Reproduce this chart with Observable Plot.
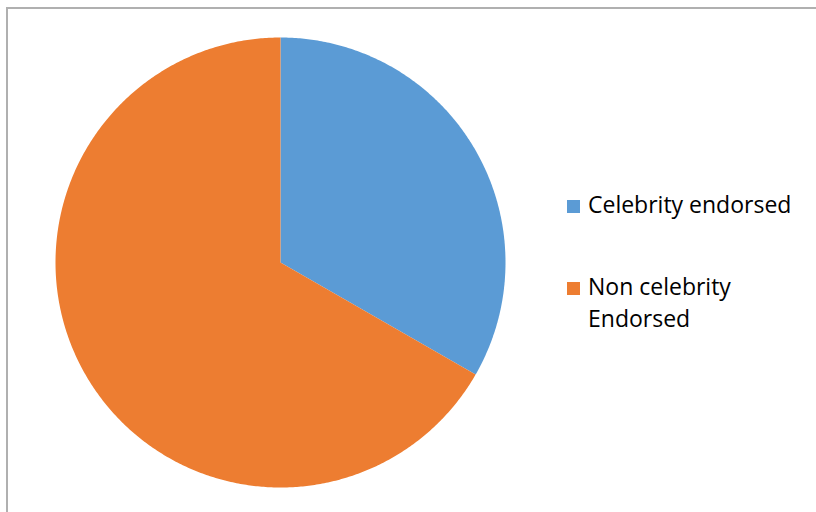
<!DOCTYPE html>
<html>
<head>
<meta charset="utf-8">
<script src="https://cdn.jsdelivr.net/npm/d3@7"></script>
<script src="https://cdn.jsdelivr.net/npm/@observablehq/plot@0.6"></script>
<style>
  html, body { margin: 0; padding: 0; background: #fff; overflow: hidden; }
  #wrap { position: relative; width: 816px; height: 512px; }
  #frame { position: absolute; left: 6px; top: 7px; width: 900px; height: 600px; border: 2px solid #b0b0b0; box-sizing: border-box; }
  #chart { position: absolute; left: 0; top: 0; }
  .leg { position: absolute; font-family: "Open Sans", Lato, sans-serif; font-size: 23px; line-height: 32px; color: #000; white-space: nowrap; }
  .sw { position: absolute; width: 13px; height: 13px; }
</style>
</head>
<body>
<div id="wrap">
  <div id="frame"></div>
  <div id="chart"></div>
  <div id="legend"></div>
</div>
<script>
const categories = ["Celebrity endorsed", "Non celebrity Endorsed"];
const legendLines = [["Celebrity endorsed"], ["Non celebrity", "Endorsed"]];
const values = [33.3, 66.7];
const colors = ["#5b9bd5", "#ed7d31"];

const arcs = d3.pie().sort(null).value(d => d.value)(categories.map((c, i) => ({cat: c, value: values[i]})));
const pts = [];
for (const a of arcs) {
  pts.push({cat: a.data.cat, x: 0, y: 0});
  const n = Math.max(2, Math.ceil((a.endAngle - a.startAngle) / (Math.PI / 360)));
  for (let k = 0; k <= n; k++) {
    const t = a.startAngle + (a.endAngle - a.startAngle) * k / n;
    pts.push({cat: a.data.cat, x: Math.sin(t), y: Math.cos(t)});
  }
}

const plot = Plot.plot({
  width: 816,
  height: 512,
  marginLeft: 55,
  marginRight: 311,
  marginTop: 37,
  marginBottom: 25,
  x: {domain: [-1, 1], axis: null},
  y: {domain: [-1, 1], axis: null},
  color: {domain: categories, range: colors},
  style: {background: "transparent"},
  marks: [
    Plot.line(pts, {x: "x", y: "y", z: "cat", fill: "cat", stroke: "none", curve: "linear"})
  ]
});
document.getElementById("chart").appendChild(plot);

const legend = document.getElementById("legend");
const tops = [188, 270];
legendLines.forEach((lines, i) => {
  const sw = document.createElement("div");
  sw.className = "sw";
  sw.style.left = "567px";
  sw.style.top = (tops[i] + 12) + "px";
  sw.style.background = colors[i];
  legend.appendChild(sw);
  const t = document.createElement("div");
  t.className = "leg";
  t.style.left = "588px";
  t.style.top = tops[i] + "px";
  t.innerHTML = lines.join("<br>");
  legend.appendChild(t);
});
</script>
</body>
</html>
